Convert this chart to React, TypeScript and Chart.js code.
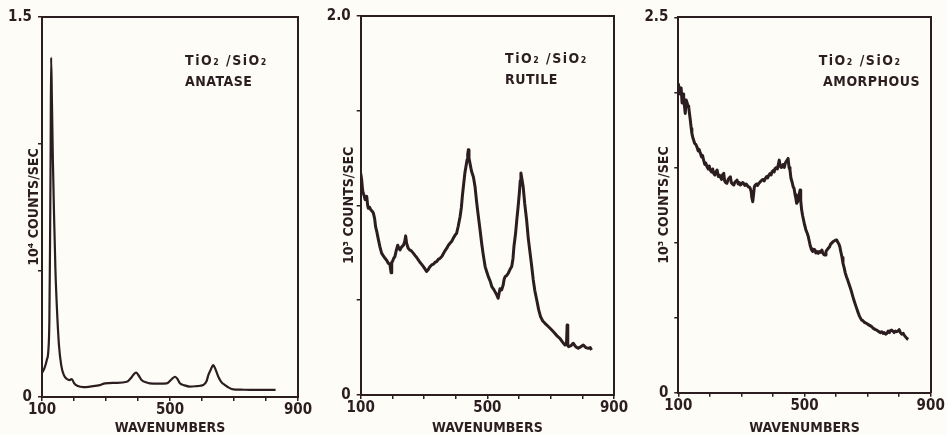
import React, { useEffect, useRef } from "react";
import { Chart, registerables } from "chart.js";

Chart.register(...registerables);

// ---------- data ----------
const xTickLabels = [100, 500, 900];

const anataseWavenumbers = [
  100, 108, 115, 120, 123, 125, 127, 128.5, 131, 134, 138, 142, 147, 153, 160, 168, 178, 186, 193, 200,
  212, 230, 255, 281, 297, 330, 365, 378, 385, 394, 402, 411, 425, 437, 465, 490, 505, 516, 524, 531,
  545, 562, 585, 604, 614, 620, 628, 635, 642, 651, 660, 672, 685, 698, 720, 750, 790, 830,
];
const anataseCounts = [
  0.095, 0.115, 0.146, 0.186, 0.3, 0.58, 0.975, 1.34, 1.17, 0.935, 0.7, 0.5, 0.34, 0.205, 0.126, 0.087, 0.071, 0.067, 0.071, 0.055,
  0.043, 0.039, 0.042, 0.047, 0.054, 0.056, 0.06, 0.075, 0.087, 0.096, 0.085, 0.067, 0.058, 0.054, 0.053, 0.054, 0.07, 0.08, 0.07, 0.054,
  0.046, 0.041, 0.043, 0.047, 0.062, 0.087, 0.11, 0.126, 0.11, 0.08, 0.06, 0.047, 0.036, 0.03, 0.029, 0.028, 0.028, 0.028,
];

const rutileWavenumbers = [
  100, 103, 106, 108, 111, 114, 119, 122, 124, 128, 132, 136, 140, 144, 147, 151, 156, 161, 166, 171,
  177, 182, 187, 192, 196, 198, 200, 204, 208, 212, 217, 220, 224, 229, 235, 239, 242, 245, 250, 255,
  260, 266, 272, 277, 282, 287, 292, 298, 303, 308, 313, 318, 324, 330, 335, 340, 345, 350, 356, 361,
  366, 372, 377, 382, 387, 392, 397, 403, 408, 414, 418, 421, 425, 429, 433, 436, 438, 440, 442, 445,
  450, 456, 461, 466, 471, 477, 482, 487, 493, 498, 503, 509, 514, 519, 524, 529, 534, 537, 540, 545,
  550, 553, 556, 561, 566, 571, 577, 581, 584, 589, 593, 597, 601, 604, 606, 609, 613, 618, 624, 629,
  635, 640, 645, 650, 656, 662, 668, 675, 682, 690, 698, 705, 713, 721, 729, 737, 745, 750, 752, 754,
  757, 764, 771, 779, 787, 795, 803, 811, 819, 825, 829,
];
const rutileCounts = [
  1.17, 1.135, 1.08, 1.064, 1.05, 1.03, 1.047, 1.0, 0.985, 0.99, 0.976, 0.97, 0.959, 0.93, 0.888, 0.86, 0.818, 0.78, 0.748, 0.735,
  0.721, 0.71, 0.695, 0.69, 0.644, 0.7, 0.703, 0.72, 0.73, 0.76, 0.79, 0.775, 0.765, 0.78, 0.79, 0.81, 0.839, 0.8, 0.774, 0.765,
  0.76, 0.748, 0.735, 0.725, 0.712, 0.7, 0.69, 0.677, 0.665, 0.651, 0.66, 0.675, 0.686, 0.69, 0.7, 0.703, 0.715, 0.72, 0.73, 0.745,
  0.76, 0.774, 0.79, 0.8, 0.809, 0.825, 0.84, 0.853, 0.89, 0.941, 0.99, 1.047, 1.11, 1.17, 1.21, 1.24, 1.27, 1.293, 1.25, 1.223,
  1.18, 1.15, 1.1, 1.02, 0.95, 0.87, 0.8, 0.74, 0.677, 0.65, 0.624, 0.6, 0.571, 0.56, 0.545, 0.53, 0.51, 0.535, 0.56, 0.554,
  0.58, 0.61, 0.624, 0.63, 0.642, 0.66, 0.677, 0.72, 0.783, 0.85, 0.923, 0.99, 1.064, 1.13, 1.17, 1.14, 1.1, 1.01, 0.923, 0.83,
  0.748, 0.68, 0.607, 0.55, 0.501, 0.45, 0.413, 0.39, 0.378, 0.365, 0.352, 0.34, 0.326, 0.31, 0.299, 0.28, 0.264, 0.27, 0.369, 0.26,
  0.255, 0.26, 0.273, 0.255, 0.246, 0.255, 0.264, 0.25, 0.246, 0.25, 0.237,
];

const amorphousWavenumbers = [
  100, 103, 106, 109, 112, 115, 117, 120, 122, 125, 128, 131, 133, 136, 138, 141, 143, 146, 149, 152,
  155, 159, 163, 166, 170, 174, 177, 180, 184, 187, 191, 195, 198, 201, 205, 209, 212, 216, 219, 223,
  227, 230, 233, 237, 240, 244, 247, 250, 254, 258, 261, 265, 268, 272, 276, 279, 283, 286, 290, 293,
  297, 300, 304, 307, 311, 315, 318, 322, 325, 328, 331, 333, 336, 339, 341, 344, 348, 351, 355, 358,
  362, 365, 369, 372, 376, 380, 383, 387, 391, 394, 397, 401, 404, 407, 411, 414, 417, 420, 423, 426,
  429, 432, 436, 439, 442, 445, 448, 451, 454, 457, 461, 464, 467, 470, 473, 475, 478, 481, 484, 486,
  488, 491, 494, 497, 500, 502, 505, 509, 512, 515, 518, 521, 523, 526, 530, 533, 536, 540, 544, 547,
  551, 555, 558, 561, 565, 568, 571, 575, 579, 583, 586, 590, 594, 598, 602, 606, 609, 612, 615, 619,
  622, 626, 629, 633, 637, 640, 644, 648, 652, 656, 660, 664, 668, 671, 674, 678, 681, 685, 689, 693,
  697, 701, 705, 709, 713, 717, 721, 725, 729, 733, 737, 741, 745, 749, 753, 757, 761, 765, 769, 773,
  776, 780, 784, 788, 792, 796, 800, 804, 808, 813, 817, 821, 825, 829,
];
const amorphousCounts = [
  2.06, 2.02, 1.99, 2.03, 1.93, 1.99, 1.97, 1.9, 1.86, 1.95, 1.93, 1.91, 1.9, 1.85, 1.816, 1.76, 1.727, 1.7, 1.68, 1.66,
  1.655, 1.638, 1.61, 1.62, 1.594, 1.57, 1.58, 1.55, 1.52, 1.53, 1.505, 1.49, 1.51, 1.483, 1.47, 1.49, 1.461, 1.45, 1.47, 1.483,
  1.44, 1.45, 1.438, 1.42, 1.45, 1.461, 1.41, 1.4, 1.394, 1.42, 1.43, 1.438, 1.4, 1.39, 1.383, 1.4, 1.41, 1.416, 1.39, 1.4,
  1.383, 1.39, 1.4, 1.394, 1.38, 1.39, 1.383, 1.37, 1.37, 1.361, 1.34, 1.3, 1.272, 1.33, 1.37, 1.383, 1.39, 1.38, 1.394, 1.4,
  1.41, 1.416, 1.42, 1.41, 1.427, 1.44, 1.43, 1.449, 1.46, 1.45, 1.471, 1.48, 1.47, 1.494, 1.5, 1.49, 1.52, 1.549, 1.51, 1.5,
  1.505, 1.52, 1.5, 1.527, 1.54, 1.55, 1.56, 1.5, 1.483, 1.43, 1.4, 1.372, 1.36, 1.32, 1.29, 1.261, 1.27, 1.3, 1.33, 1.35,
  1.28, 1.216, 1.18, 1.15, 1.12, 1.105, 1.08, 1.06, 1.039, 1.01, 0.98, 0.96, 0.95, 0.94, 0.955, 0.95, 0.93, 0.94, 0.928, 0.94,
  0.935, 0.95, 0.93, 0.92, 0.917, 0.94, 0.95, 0.961, 0.97, 0.99, 0.995, 1.005, 1.01, 1.015, 1.017, 1.0, 0.99, 0.972, 0.94, 0.9,
  0.862, 0.83, 0.8, 0.772, 0.75, 0.73, 0.706, 0.68, 0.65, 0.62, 0.595, 0.57, 0.545, 0.528, 0.51, 0.495, 0.484, 0.48, 0.47, 0.465,
  0.462, 0.455, 0.45, 0.445, 0.44, 0.43, 0.425, 0.42, 0.417, 0.41, 0.405, 0.4, 0.406, 0.395, 0.4, 0.39, 0.395, 0.41, 0.4, 0.415,
  0.417, 0.41, 0.4, 0.41, 0.406, 0.41, 0.42, 0.4, 0.39, 0.395, 0.38, 0.37, 0.36, 0.355,
];

// ---------- style ----------
const INK = "#2b1d20";
const BG = "#fdfcf7";
const FAMILY = "'DejaVu Sans Condensed', 'DejaVu Sans', sans-serif";
const FONT = { family: FAMILY, size: 14, weight: "bold" as const };
const TICK_FONT = { family: FAMILY, size: 15, weight: "bold" as const };

type Panel = {
  left: number;
  width: number;
  leftAxis: number;
  rightAxis: number;
  topAxis: number;
  bottomAxis: number;
  yMax: number;
  yTitle: string;
  x: number[];
  y: number[];
  lineWidth: number;
  smooth: boolean;
  label: string[];
  labelX: number[];
};

const panels: Panel[] = [
  {
    left: 0, width: 315, leftAxis: 42, rightAxis: 17, topAxis: 17, bottomAxis: 38,
    yMax: 1.5, yTitle: "10\u2074 COUNTS/SEC",
    x: anataseWavenumbers, y: anataseCounts, lineWidth: 2.2, smooth: true,
    label: ["TiO\u2082 /SiO\u2082", "ANATASE"], labelX: [547, 547],
  },
  {
    left: 315, width: 315, leftAxis: 45.7, rightAxis: 16, topAxis: 15.7, bottomAxis: 40,
    yMax: 2.0, yTitle: "10\u00b3 COUNTS/SEC",
    x: rutileWavenumbers, y: rutileCounts, lineWidth: 3, smooth: false,
    label: ["TiO\u2082 /SiO\u2082", "RUTILE"], labelX: [556, 556],
  },
  {
    left: 630, width: 316, leftAxis: 48.3, rightAxis: 15.3, topAxis: 17.3, bottomAxis: 42.3,
    yMax: 2.5, yTitle: "10\u00b3 COUNTS/SEC",
    x: amorphousWavenumbers, y: amorphousCounts, lineWidth: 3, smooth: false,
    label: ["TiO\u2082 /SiO\u2082", "AMORPHOUS"], labelX: [545, 559],
  },
];

function SpectrumChart({ panel }: { panel: Panel }) {
  const ref = useRef<HTMLCanvasElement>(null);

  useEffect(() => {
    if (!ref.current) return;
    const labelPlugin = {
      id: "sampleLabel",
      afterDraw(chart: any) {
        const { ctx, chartArea, scales } = chart;
        ctx.save();
        ctx.fillStyle = INK;
        ctx.font = `bold 14px ${FAMILY}`;
        ctx.textAlign = "left";
        ctx.textBaseline = "middle";
        panel.label.forEach((line, i) => {
          ctx.letterSpacing = i === 0 ? "1.5px" : "0.5px";
          ctx.fillText(line, scales.x.getPixelForValue(panel.labelX[i]), chartArea.top + 44 + i * 21);
        });
        ctx.restore();
      },
    };

    const chart = new Chart(ref.current, {
      type: "line",
      data: {
        datasets: [
          {
            data: panel.x.map((w, i) => ({ x: w, y: panel.y[i] })),
            borderColor: INK,
            borderWidth: panel.lineWidth,
            pointRadius: 0,
            tension: 0,
            cubicInterpolationMode: panel.smooth ? "monotone" : "default",
            fill: false,
            borderJoinStyle: "round",
          },
        ],
      },
      options: {
        responsive: false,
        animation: false,
        devicePixelRatio: 1,
        layout: { padding: 0 },
        plugins: { legend: { display: false }, tooltip: { enabled: false } },
        scales: {
          x: {
            type: "linear",
            position: "bottom",
            min: 100,
            max: 900,
            ticks: {
              stepSize: 100,
              autoSkip: false,
              maxRotation: 0,
              padding: 0,
              color: INK,
              font: TICK_FONT,
              callback: (v: any) => (xTickLabels.includes(Number(v)) ? String(v) : ""),
            },
            grid: { display: true, drawOnChartArea: false, drawTicks: true, tickLength: 4, color: INK, lineWidth: 1.5 },
            border: { display: true, color: INK, width: 2 },
            title: { display: true, text: "WAVENUMBERS", color: INK, font: FONT, padding: { top: 0, bottom: -2 } },
            afterFit: (s: any) => { s.height = panel.bottomAxis; },
          },
          y: {
            type: "linear",
            position: "left",
            min: 0,
            max: panel.yMax,
            ticks: {
              stepSize: 0.5,
              autoSkip: false,
              padding: 6,
              color: INK,
              font: TICK_FONT,
              callback: (v: any) => {
                const n = Number(v);
                if (n === 0) return "0";
                if (Math.abs(n - panel.yMax) < 1e-9) return n.toFixed(1);
                return "";
              },
            },
            grid: { display: true, drawOnChartArea: false, drawTicks: true, tickLength: 4, color: INK, lineWidth: 1.5 },
            border: { display: true, color: INK, width: 2 },
            title: { display: true, text: panel.yTitle, color: INK, font: FONT, padding: { top: 26, bottom: 0 } },
            afterFit: (s: any) => { s.width = panel.leftAxis; },
          },
          x2: {
            type: "linear",
            axis: "x",
            position: "top",
            min: 0,
            max: 1,
            ticks: { display: false },
            grid: { display: false, drawTicks: false },
            border: { display: true, color: INK, width: 2 },
            afterFit: (s: any) => { s.height = panel.topAxis; },
          },
          y2: {
            type: "linear",
            axis: "y",
            position: "right",
            min: 0,
            max: 1,
            ticks: { display: false },
            grid: { display: false, drawTicks: false },
            border: { display: true, color: INK, width: 2 },
            afterFit: (s: any) => { s.width = panel.rightAxis; },
          },
        },
      } as any,
      plugins: [labelPlugin],
    });
    return () => chart.destroy();
  }, [panel]);

  return (
    <canvas
      ref={ref}
      width={panel.width}
      height={435}
      style={{ position: "absolute", left: panel.left, top: 0, width: panel.width, height: 435 }}
    />
  );
}

export default function App() {
  return (
    <div
      style={{
        position: "absolute",
        left: 0,
        top: 0,
        width: 946,
        height: 435,
        background: BG,
        overflow: "hidden",
      }}
    >
      {panels.map((p, i) => (
        <SpectrumChart key={i} panel={p} />
      ))}
    </div>
  );
}
